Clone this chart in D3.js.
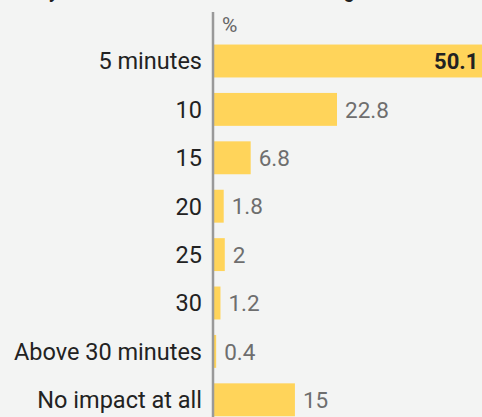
<!DOCTYPE html>
<html><head><meta charset="utf-8">
<script src="https://cdn.jsdelivr.net/npm/d3@7"></script>
<style>
html,body{margin:0;padding:0;background:#f3f4f3;}
svg{display:block;font-family:Roboto,"Noto Sans",sans-serif;}
</style></head>
<body><svg id="c" width="482" height="417"></svg>
<script>
const categories = ["5 minutes","10","15","20","25","30","Above 30 minutes","No impact at all"];
const values = [50.1,22.8,6.8,1.8,2,1.2,0.4,15];
const unitLabel = "%";
const title = "Delay users would tolerate before leaving";

const svg = d3.select("#c");
const x0 = 214;
const x = d3.scaleLinear().domain([0,22.8]).range([x0,337]);
const y = d3.scaleBand().domain(categories).range([36.8,424]).paddingInner(0.32).paddingOuter(0.16);

svg.append("text").attr("x",12).attr("y",-2).attr("font-size",18.5).attr("font-weight",700).attr("fill","#222").text(title);

svg.selectAll("rect.bar").data(values).join("rect").attr("class","bar")
  .attr("x",x0).attr("y",(d,i)=>y(categories[i]))
  .attr("width",d=>x(d)-x0).attr("height",y.bandwidth()).attr("fill","#ffd45a");

svg.append("line").attr("x1",213).attr("x2",213).attr("y1",12).attr("y2",417)
  .attr("stroke","#999").attr("stroke-width",2.5);

svg.append("text").attr("x",222).attr("y",32).attr("font-size",21).attr("fill","#666").text(unitLabel);

svg.selectAll("text.cat").data(categories).join("text").attr("class","cat")
  .attr("x",202).attr("y",d=>y(d)+y.bandwidth()/2).attr("dy","0.36em")
  .attr("text-anchor","end").attr("font-size",23.5).attr("fill","#222").text(d=>d);

svg.selectAll("text.val").data(values).join("text").attr("class","val")
  .attr("x",(d,i)=> i===0 ? x(d)-6 : x(d)+8)
  .attr("y",(d,i)=>y(categories[i])+y.bandwidth()/2).attr("dy","0.36em")
  .attr("text-anchor",(d,i)=> i===0 ? "end" : "start")
  .attr("font-size",(d,i)=> i===0 ? 22 : 22.5).attr("font-weight",(d,i)=> i===0 ? 700 : 400)
  .attr("fill",(d,i)=> i===0 ? "#222" : "#6e6e6e").text(d=>d);
</script></body></html>
